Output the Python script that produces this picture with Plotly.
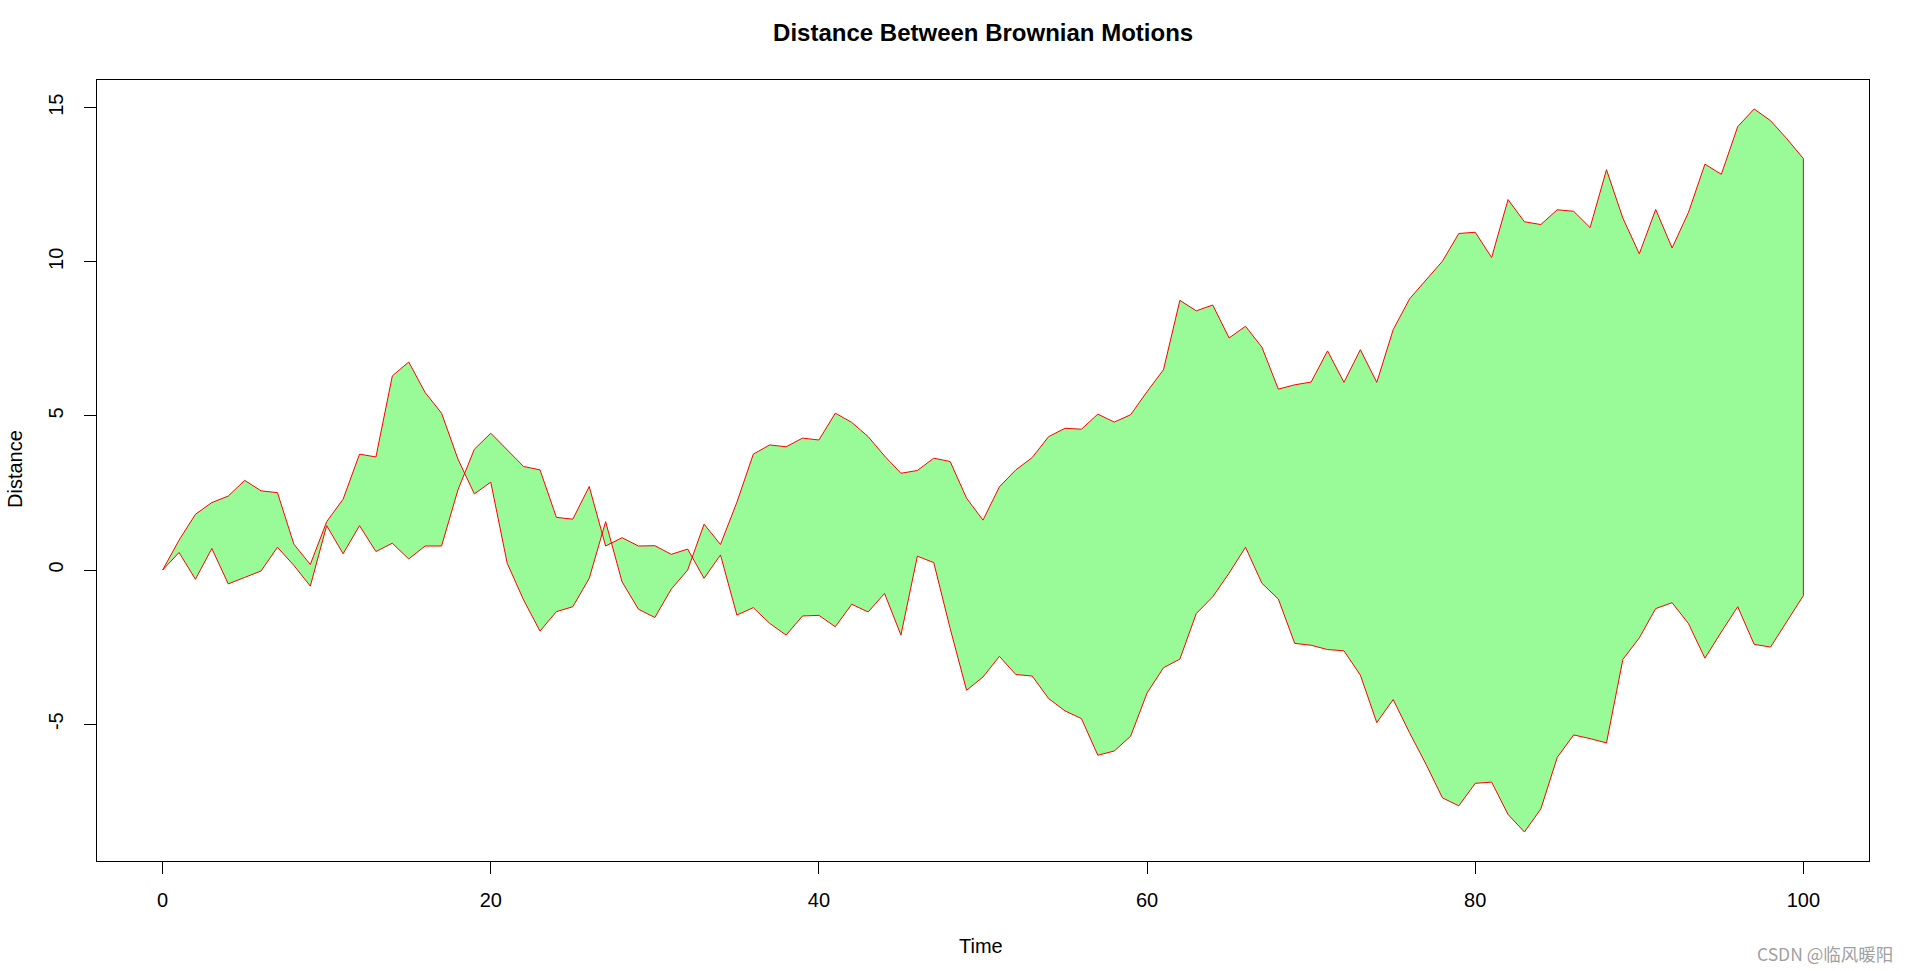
import plotly.graph_objects as go

time = list(range(0, 101))

motion_a = [0, 0.97, 1.81, 2.19, 2.40, 2.91, 2.57, 2.51, 0.84, 0.18,
            1.57, 2.30, 3.76, 3.67, 6.30, 6.75, 5.76, 5.09, 3.60, 2.47,
            2.85, 0.22, -0.97, -1.98, -1.35, -1.19, -0.27, 1.57, -0.38, -1.27,
            -1.54, -0.62, 0.00, 1.49, 0.83, 2.20, 3.76, 4.06, 4.00, 4.28,
            4.22, 5.09, 4.79, 4.33, 3.70, 3.14, 3.23, 3.63, 3.52, 2.33,
            1.62, 2.70, 3.25, 3.65, 4.33, 4.60, 4.57, 5.06, 4.80, 5.04,
            5.79, 6.50, 8.75, 8.41, 8.60, 7.53, 7.91, 7.23, 5.87, 6.01,
            6.10, 7.11, 6.09, 7.15, 6.09, 7.80, 8.80, 9.41, 10.02, 10.92,
            10.96, 10.14, 12.02, 11.30, 11.21, 11.69, 11.64, 11.11, 12.99, 11.42,
            10.26, 11.70, 10.45, 11.61, 13.17, 12.84, 14.39, 14.96, 14.58, 13.99,
            13.35]

motion_b = [0, 0.57, -0.30, 0.70, -0.45, -0.24, -0.03, 0.74, 0.15, -0.52,
            1.44, 0.53, 1.44, 0.60, 0.87, 0.36, 0.78, 0.78, 2.60, 3.92,
            4.44, 3.90, 3.36, 3.25, 1.71, 1.65, 2.71, 0.78, 1.05, 0.78,
            0.79, 0.51, 0.68, -0.27, 0.49, -1.46, -1.22, -1.73, -2.11, -1.49,
            -1.47, -1.84, -1.11, -1.36, -0.76, -2.11, 0.45, 0.24, -1.90, -3.90,
            -3.47, -2.80, -3.39, -3.44, -4.17, -4.57, -4.82, -6.01, -5.87, -5.39,
            -3.99, -3.17, -2.89, -1.41, -0.87, -0.10, 0.74, -0.43, -0.94, -2.38,
            -2.44, -2.58, -2.62, -3.41, -4.95, -4.20, -5.28, -6.30, -7.39, -7.65,
            -6.92, -6.88, -7.93, -8.50, -7.75, -6.08, -5.35, -5.47, -5.61, -2.90,
            -2.20, -1.25, -1.06, -1.74, -2.86, -2.01, -1.19, -2.41, -2.50, -1.65,
            -0.83]

x_ticks = [0, 20, 40, 60, 80, 100]
y_ticks = [-5, 0, 5, 10, 15]

poly_x = time + time[::-1] + [time[0]]
poly_y = motion_a + motion_b[::-1] + [motion_a[0]]

fig = go.Figure()
fig.add_trace(go.Scatter(
    x=poly_x, y=poly_y, mode="lines", fill="toself",
    fillcolor="#98FB98", line=dict(color="#FF0000", width=1),
    hoverinfo="skip", showlegend=False,
))

font_family = "Liberation Sans, Arial, sans-serif"

fig.update_layout(
    width=1909, height=971,
    margin=dict(l=97, r=40, t=80, b=110),
    paper_bgcolor="white", plot_bgcolor="white",
    font=dict(family=font_family, size=20, color="black"),
    title=dict(text="<b>Distance Between Brownian Motions</b>",
               x=0.515, xanchor="center", y=1 - 33 / 971, yanchor="middle",
               font=dict(family=font_family, size=24, color="black")),
    showlegend=False,
)

fig.update_xaxes(
    range=[-4, 104], tickvals=x_ticks, ticktext=[str(v) for v in x_ticks],
    showgrid=False, zeroline=False, showline=True, linecolor="black",
    linewidth=1, mirror=True, ticks="outside", ticklen=12, tickwidth=1,
    tickcolor="black", tickfont=dict(size=20), ticklabelstandoff=9,
)
fig.update_yaxes(
    range=[-9.44, 15.9], tickvals=y_ticks, ticktext=[str(v) for v in y_ticks],
    showgrid=False, zeroline=False, showline=True, linecolor="black",
    linewidth=1, mirror=True, ticks="outside", ticklen=12, tickwidth=1,
    tickcolor="black", tickangle=-90, tickfont=dict(size=20), ticklabelstandoff=13,
)

plot_h = 971 - 80 - 110
plot_w = 1909 - 97 - 40
fig.add_annotation(text="Time", xref="paper", yref="paper",
                   x=(981 - 97) / plot_w, y=(861 - 946) / plot_h,
                   showarrow=False, font=dict(size=20), xanchor="center", yanchor="middle")
fig.add_annotation(text="Distance", xref="paper", yref="paper",
                   x=(15 - 97) / plot_w, y=(861 - 469) / plot_h, textangle=-90,
                   showarrow=False, font=dict(size=20), xanchor="center", yanchor="middle")
fig.add_annotation(text="CSDN @临风暖阳", xref="paper", yref="paper",
                   x=(1895 - 97) / plot_w, y=(861 - 953) / plot_h,
                   showarrow=False, xanchor="right", yanchor="middle",
                   font=dict(family="Noto Sans CJK SC, sans-serif", size=17.5, color="#a0a0a0"))

fig.write_html("out.html")
